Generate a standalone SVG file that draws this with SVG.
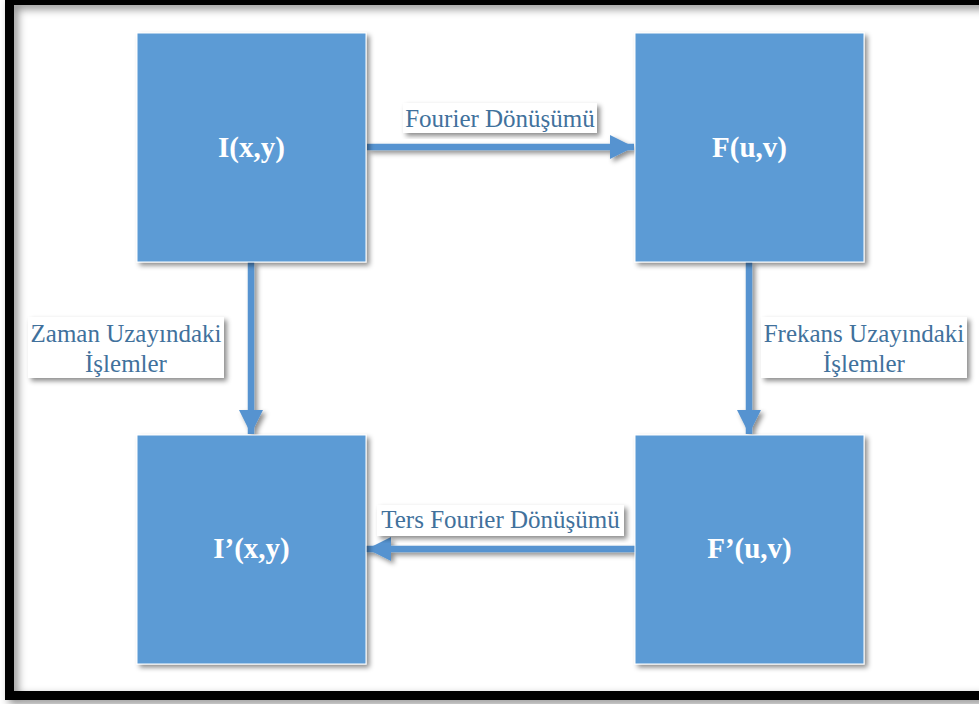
<svg xmlns="http://www.w3.org/2000/svg" width="979" height="704" viewBox="0 0 979 704">
<defs>
<filter id="sh" x="-10%" y="-10%" width="130%" height="130%">
<feDropShadow dx="3" dy="3" stdDeviation="2.5" flood-color="#000" flood-opacity="0.45"/>
</filter>
<filter id="fsh" x="-5%" y="-5%" width="115%" height="115%">
<feDropShadow dx="4" dy="4" stdDeviation="4" flood-color="#000" flood-opacity="0.45"/>
</filter>
<marker id="ah" markerUnits="userSpaceOnUse" markerWidth="24" markerHeight="24" refX="24" refY="12" orient="auto">
<path d="M0,0 L24,12 L0,24 z" fill="#5793D0"/>
</marker>
<style>
.box{fill:#5B9BD5;stroke:#fff;stroke-width:1;filter:url(#sh)}
.nt{font-family:"Liberation Serif","Times New Roman",serif;font-weight:bold;font-size:29px;fill:#fff;text-anchor:middle}
.lb{fill:#fff;filter:url(#sh)}
.lt{font-family:"Liberation Serif","Times New Roman",serif;font-size:25px;fill:#41719C;text-anchor:middle}
.cn{stroke:#5793D0;stroke-width:6.5;fill:none;marker-end:url(#ah)}
</style>
</defs>
<rect width="979" height="704" fill="#fff"/>
<rect x="9.5" y="0.5" width="985" height="695" fill="none" stroke="#000" stroke-width="9" filter="url(#fsh)"/>
<g id="connectors" filter="url(#sh)">
<line class="cn" x1="367" y1="147" x2="634" y2="147"/>
<line class="cn" x1="251" y1="262" x2="251" y2="434"/>
<line class="cn" x1="749" y1="262" x2="749" y2="434"/>
<line class="cn" x1="636" y1="549" x2="367" y2="549" stroke-linecap="round"/>
</g>
<g id="node-I">
<rect class="box" x="137" y="33" width="229" height="229"/>
<text class="nt" x="251.5" y="157">I(x,y)</text>
</g>
<g id="node-F">
<rect class="box" x="635" y="33" width="229" height="229"/>
<text class="nt" x="749.5" y="157">F(u,v)</text>
</g>
<g id="node-I2">
<rect class="box" x="137" y="435" width="229" height="229"/>
<text class="nt" x="251.5" y="558">I’(x,y)</text>
</g>
<g id="node-F2">
<rect class="box" x="635" y="435" width="229" height="229"/>
<text class="nt" x="749.5" y="558">F’(u,v)</text>
</g>
<g id="label-top">
<rect class="lb" x="403" y="103" width="194" height="30"/>
<text class="lt" x="500" y="127">Fourier Dönüşümü</text>
</g>
<g id="label-bottom">
<rect class="lb" x="377" y="505" width="247" height="31"/>
<text class="lt" x="500.5" y="528">Ters Fourier Dönüşümü</text>
</g>
<g id="label-left">
<rect class="lb" x="28" y="317" width="196" height="61"/>
<text class="lt" x="126" y="342">Zaman Uzayındaki</text>
<text class="lt" x="126" y="372">İşlemler</text>
</g>
<g id="label-right">
<rect class="lb" x="761" y="317" width="206" height="61"/>
<text class="lt" x="864" y="342">Frekans Uzayındaki</text>
<text class="lt" x="864" y="372">İşlemler</text>
</g>
</svg>
